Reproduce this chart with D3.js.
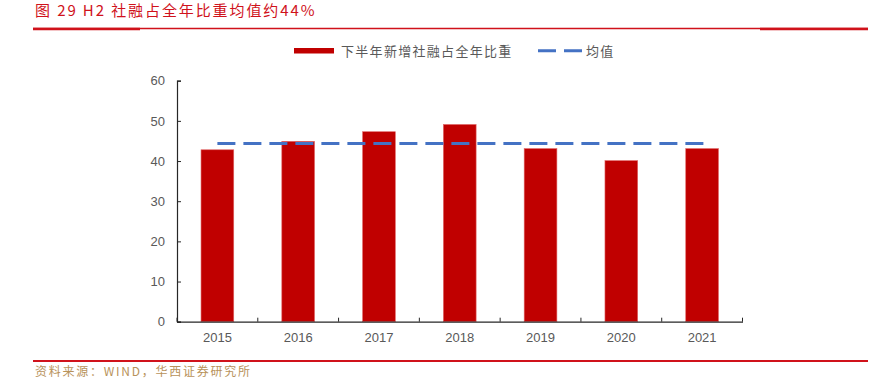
<!DOCTYPE html>
<html>
<head>
<meta charset="utf-8">
<script src="https://cdn.jsdelivr.net/npm/d3@7"></script>
<style>
  body { margin: 0; background: #fff; }
  svg { display: block; }
</style>
</head>
<body>
<div id="chart"></div>
<script>
var width = 872,
    height = 380;

// data
var years = ["2015", "2016", "2017", "2018", "2019", "2020", "2021"];
var shares = [42.8, 44.9, 47.3, 49.1, 43.1, 40.1, 43.1];
var yTicks = [0, 10, 20, 30, 40, 50, 60];
var seriesNames = ["下半年新增社融占全年比重", "均值"];

var meanValue = d3.mean(shares);

var red = "#c00000",
    blue = "#4472c4",
    grey = "#595959";

var svg = d3.select("#chart")
    .append("svg")
    .attr("width", width)
    .attr("height", height);

// title + rules
svg.append("text")
    .attr("x", 35)
    .attr("y", 16)
    .style("font-family", "Noto Sans CJK SC")
    .style("font-size", "15px")
    .style("letter-spacing", "1.9px")
    .style("fill", "#d0121b")
    .text("图 29 H2 社融占全年比重均值约44%");

svg.append("line")
    .attr("x1", 33).attr("x2", 868)
    .attr("y1", 28.5).attr("y2", 28.5)
    .style("stroke", "#d0121b")
    .style("stroke-width", 1.5);
svg.append("line")
    .attr("x1", 33).attr("x2", 140)
    .attr("y1", 29).attr("y2", 29)
    .style("stroke", "#d0121b")
    .style("stroke-width", 2.5);
svg.append("line")
    .attr("x1", 760).attr("x2", 868)
    .attr("y1", 29).attr("y2", 29)
    .style("stroke", "#d0121b")
    .style("stroke-width", 2.5);

// footer
svg.append("line")
    .attr("x1", 33).attr("x2", 868)
    .attr("y1", 361).attr("y2", 361)
    .style("stroke", "#d0121b")
    .style("stroke-width", 2.2);
svg.append("text")
    .attr("x", 35)
    .attr("y", 376)
    .style("font-family", "Noto Sans CJK SC")
    .style("font-size", "12px")
    .style("letter-spacing", "1.75px")
    .style("fill", "#b8925a")
    .text("资料来源：WIND，华西证券研究所");

// scales
var x = d3.scaleBand()
    .domain(years)
    .range([177, 742.5])
    .paddingInner(0.595)
    .paddingOuter(0.2975);

var y = d3.scaleLinear()
    .domain([0, 60])
    .range([321.7, 80.7]);

// bars
svg.append("g")
    .selectAll("rect")
    .data(shares)
    .enter()
    .append("rect")
    .attr("x", function (d, i) { return x(years[i]); })
    .attr("y", function (d) { return y(d); })
    .attr("width", x.bandwidth())
    .attr("height", function (d) { return y(0) - y(d); })
    .style("fill", red)
    .style("stroke", "#e06666")
    .style("stroke-width", 0.6);

// mean line
var half = x.bandwidth() / 2;
svg.append("line")
    .attr("x1", x(years[0]) + half)
    .attr("x2", x(years[years.length - 1]) + half + 2)
    .attr("y1", y(meanValue))
    .attr("y2", y(meanValue))
    .style("stroke", blue)
    .style("stroke-width", 3)
    .style("stroke-dasharray", "18,8");

// axes
var yAxis = d3.axisLeft(y)
    .tickValues(yTicks)
    .tickSizeInner(-4)
    .tickSizeOuter(-4)
    .tickPadding(12);

var gy = svg.append("g")
    .attr("transform", "translate(177,0)")
    .call(yAxis);

var xAxis = d3.axisBottom(x)
    .tickSize(0)
    .tickPadding(11);

var gx = svg.append("g")
    .attr("transform", "translate(0,321.7)")
    .call(xAxis);

// x ticks sit between categories
gx.selectAll(".sep")
    .data(d3.range(years.length + 1))
    .enter()
    .append("line")
    .attr("class", "sep")
    .attr("x1", function (i) { return 177 + i * x.step(); })
    .attr("x2", function (i) { return 177 + i * x.step(); })
    .attr("y1", 0)
    .attr("y2", -4)
    .style("stroke", "#262626");

[gx, gy].forEach(function (g) {
    g.select(".domain").style("stroke", "#262626").style("stroke-width", 1.2);
    g.selectAll(".tick line").style("stroke", "#262626");
    g.selectAll("text")
        .style("font-family", "Liberation Sans, Arial, sans-serif")
        .style("font-size", "13px")
        .style("fill", grey);
});

// legend
var legend = svg.append("g");
legend.append("rect")
    .attr("x", 294).attr("y", 48)
    .attr("width", 40).attr("height", 5.5)
    .style("fill", red);
legend.append("text")
    .attr("x", 341).attr("y", 55.5)
    .style("font-family", "Noto Sans CJK SC")
    .style("font-size", "13px")
    .style("letter-spacing", "1.3px")
    .style("fill", grey)
    .text(seriesNames[0]);
legend.append("line")
    .attr("x1", 538).attr("x2", 582)
    .attr("y1", 50.7).attr("y2", 50.7)
    .style("stroke", blue)
    .style("stroke-width", 3)
    .style("stroke-dasharray", "18,8");
legend.append("text")
    .attr("x", 586).attr("y", 55.5)
    .style("font-family", "Noto Sans CJK SC")
    .style("font-size", "13px")
    .style("letter-spacing", "1.3px")
    .style("fill", grey)
    .text(seriesNames[1]);
</script>
</body>
</html>
